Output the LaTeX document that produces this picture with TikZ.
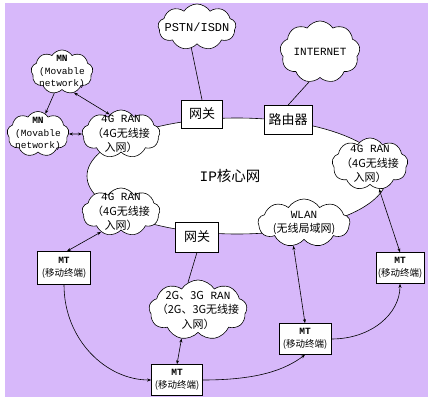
\documentclass[tikz,border=0pt]{standalone}
\usepackage{fontspec}
\setmainfont{Liberation Mono}
\newfontfamily\cjk{Noto Sans CJK SC}
\usetikzlibrary{shapes.symbols,shapes.geometric,arrows.meta}
\definecolor{bgpurple}{HTML}{D7B8FA}
\begin{document}
\begin{tikzpicture}[x=1pt,y=-1pt,line width=0.6pt,
  cloudy/.style={cloud, draw, fill=white, cloud puffs=9, cloud puff arc=115, cloud ignores aspect, inner sep=0pt},
  boxy/.style={draw, fill=white, rectangle, inner sep=0pt, align=center},
  lbl/.style={inner sep=0pt, align=center},
  twoway/.style={{Stealth[length=4pt,width=3pt]}-{Stealth[length=4pt,width=3pt]}},
  oneway/.style={-{Stealth[length=4pt,width=3pt]}},
  cloudtxt/.style={lbl, font=\fontsize{11}{14.5}\selectfont},
  mntxt/.style={lbl, font=\fontsize{9.5}{12.5}\selectfont},
  mttxt/.style={font=\fontsize{9.5}{13}\selectfont},
  boxtxt/.style={font=\fontsize{13}{15}\selectfont\cjk}]
\useasboundingbox (0,0) rectangle (433,401);
\fill[bgpurple] (5,3) rectangle (428,397);

% core network
\node[ellipse, draw, fill=white, minimum width=300pt, minimum height=116pt, inner sep=0pt] (core) at (237,176) {};
\node[lbl, font=\fontsize{14.5}{16}\selectfont] (coretext) at (230,176) {IP{\cjk 核心网}};

% clouds
\node[cloudy, minimum width=78pt, minimum height=46pt] (pstn) at (197,27) {};
\node[cloudtxt, font=\fontsize{12}{14}\selectfont] (pstnt) at (pstn) {PSTN/ISDN};
\node[cloudy, minimum width=80pt, minimum height=62pt] (inet) at (320,52) {};
\node[cloudtxt] (inett) at (inet) {INTERNET};

\node[cloudy, minimum width=62pt, minimum height=44pt] (mn1) at (62,72) {};
\node[mntxt] (mn1t) at (mn1) {\textbf{MN}\\(Movable\\network)};
\node[cloudy, minimum width=62pt, minimum height=45pt] (mn2) at (38,134) {};
\node[mntxt] (mn2t) at (mn2) {\textbf{MN}\\(Movable\\network)};

\node[cloudy, minimum width=78pt, minimum height=48pt] (ran1) at (121,134) {};
\node[cloudtxt] (ran1t) at (ran1) {4G RAN\\{\cjk （4G无线接}\\{\cjk 入网）}};
\node[cloudy, minimum width=78pt, minimum height=48pt] (ran2) at (121,212) {};
\node[cloudtxt] (ran2t) at (ran2) {4G RAN\\{\cjk （4G无线接}\\{\cjk 入网）}};
\node[cloudy, minimum width=76pt, minimum height=52pt] (ran3) at (370,164) {};
\node[cloudtxt] (ran3t) at (ran3) {4G RAN\\{\cjk （4G无线接}\\{\cjk 入网）}};
\node[cloudy, minimum width=92pt, minimum height=48pt] (wlan) at (304,223) {};
\node[cloudtxt] (wlant) at (wlan) {WLAN\\{\cjk (无线局域网)}};
\node[cloudy, minimum width=98pt, minimum height=60pt] (ran23) at (198,310) {};
\node[cloudtxt] (ran23t) at (ran23) {{\cjk 2G、3G} RAN\\{\cjk （2G、3G无线接}\\{\cjk 入网）}};

% boxes
\node[boxy, boxtxt, minimum width=41pt, minimum height=28pt] (gw1) at (202,114) {网关};
\node[boxy, boxtxt, minimum width=48pt, minimum height=29pt] (router) at (288,120) {路由器};
\node[boxy, boxtxt, minimum width=43pt, minimum height=30pt] (gw2) at (197,237) {网关};

\node[boxy, mttxt, minimum width=53pt, minimum height=33pt] (mt1) at (64,268) {\textbf{MT}\\{\cjk (移动终端)}};
\node[boxy, mttxt, minimum width=51pt, minimum height=31pt] (mt2) at (177,380) {\textbf{MT}\\{\cjk (移动终端)}};
\node[boxy, mttxt, minimum width=52pt, minimum height=31pt] (mt3) at (305,339) {\textbf{MT}\\{\cjk (移动终端)}};
\node[boxy, mttxt, minimum width=48pt, minimum height=31pt] (mt4) at (400,268) {\textbf{MT}\\{\cjk (移动终端)}};

% connectors
\draw (pstn.255) -- (gw1.north);
\draw (inet.250) -- (router.north);
\draw (gw2.south) -- (ran23.110);
\draw[oneway] (mn1.250) -- (mn2.70);
\draw[twoway] (mn1.300) -- (ran1.120);
\draw[twoway] (mn2.east) -- (ran1.west);
\draw[twoway] (ran2.225) -- (mt1.80);
\draw[twoway] (ran23.240) -- (mt2.north);
\draw[twoway] (wlan.245) -- (mt3.north);
\draw[twoway] (ran3.290) -- (mt4.north);
\draw[oneway] (mt1.south) .. controls +(0,55) and +(-45,0) .. (mt2.west);
\draw[oneway] (mt2.east) .. controls +(55,0) and +(-20,15) .. (mt3.south);
\draw[oneway] (mt3.east) .. controls +(40,0) and +(0,30) .. (mt4.south);
\end{tikzpicture}
\end{document}
